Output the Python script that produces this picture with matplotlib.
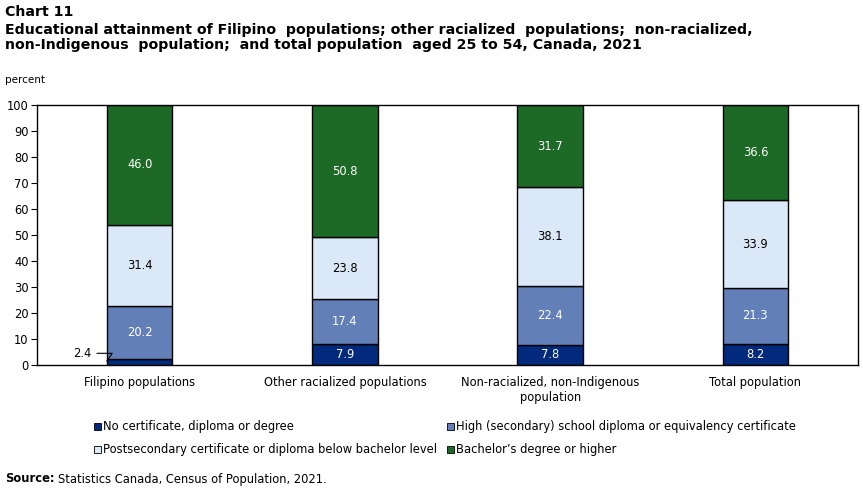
import numpy as np
import matplotlib.pyplot as plt
from matplotlib.patches import Patch

plt.rcParams['font.family'] = ['DejaVu Sans']

categories = ["Filipino populations", "Other racialized populations",
              "Non-racialized, non-Indigenous\npopulation", "Total population"]
series = ["No certificate, diploma or degree",
          "High (secondary) school diploma or equivalency certificate",
          "Postsecondary certificate or diploma below bachelor level",
          "Bachelor\u2019s degree or higher"]
no_cert = [2.4, 7.9, 7.8, 8.2]
high_school = [20.2, 17.4, 22.4, 21.3]
postsec = [31.4, 23.8, 38.1, 33.9]
bachelor = [46.0, 50.8, 31.7, 36.6]

colors = ["#022a7c", "#6280b7", "#dbe8f7", "#1c6a26"]
text_colors = ["white", "white", "black", "white"]
fs = 8.3

fig = plt.figure(figsize=(8.63, 4.92), dpi=100)
ax = fig.add_axes([37 / 863, 1 - 365 / 492, 821 / 863, 260 / 492])

x = np.arange(len(categories))
w = 0.32
bottom = np.zeros(len(categories))
for vals, col, tc in zip([no_cert, high_school, postsec, bachelor], colors, text_colors):
    vals = np.array(vals)
    ax.bar(x, vals, w, bottom=bottom, color=col, edgecolor="black", linewidth=1, zorder=2)
    for i, v in enumerate(vals):
        if v >= 5:
            ax.text(x[i], bottom[i] + v / 2, f"{v:.1f}", ha="center", va="center",
                    color=tc, fontsize=fs)
    bottom += vals

# small value with leader line
ax.annotate(f"{no_cert[0]:.1f}", xy=(x[0] - w / 2, no_cert[0] / 2 + 0.3),
            xytext=(x[0] - w / 2 - 0.075, no_cert[0] / 2 + 3.3),
            ha="right", va="center", fontsize=fs,
            arrowprops=dict(arrowstyle="-", color="black", lw=0.8,
                            connectionstyle="angle,angleA=0,angleB=55,rad=0",
                            shrinkA=2, shrinkB=0))

ax.set_xlim(-0.5, len(categories) - 0.5)
ax.set_ylim(0, 100)
ax.set_yticks(np.arange(0, 101, 10))
ax.set_xticks(x)
ax.set_xticklabels(categories, fontsize=fs)
ax.tick_params(axis="x", length=0, pad=8)
ax.tick_params(axis="y", labelsize=fs, length=4, width=0.8, direction="out", pad=2)
for s in ax.spines.values():
    s.set_linewidth(1)

fig.text(5 / 863, 1 - 5 / 492, "Chart 11", fontsize=10.2, fontweight="bold", va="top")
fig.text(5 / 863, 1 - 23 / 492,
         "Educational attainment of Filipino  populations; other racialized  populations;  non-racialized,\n"
         "non-Indigenous  population;  and total population  aged 25 to 54, Canada, 2021",
         fontsize=10.2, fontweight="bold", va="top", linespacing=1.12)
fig.text(5 / 863, 1 - 80 / 492, "percent", fontsize=7.5, va="center")

handles = [Patch(facecolor=c, edgecolor="black", linewidth=0.6) for c in colors]
order = [0, 2, 1, 3]
fig.legend([handles[i] for i in order], [series[i] for i in order], ncol=2, loc="upper left",
           bbox_to_anchor=(84 / 863, 1 - 410 / 492), frameon=False,
           fontsize=fs, handlelength=0.55, handleheight=0.55, handletextpad=0.2,
           columnspacing=0.9, labelspacing=0.85)

fig.text(5 / 863, 1 - 479 / 492, "Source:", fontsize=fs, fontweight="bold", va="center")
fig.text(58 / 863, 1 - 479 / 492, "Statistics Canada, Census of Population, 2021.",
         fontsize=fs, va="center")

fig.savefig("out.png", dpi=100)
